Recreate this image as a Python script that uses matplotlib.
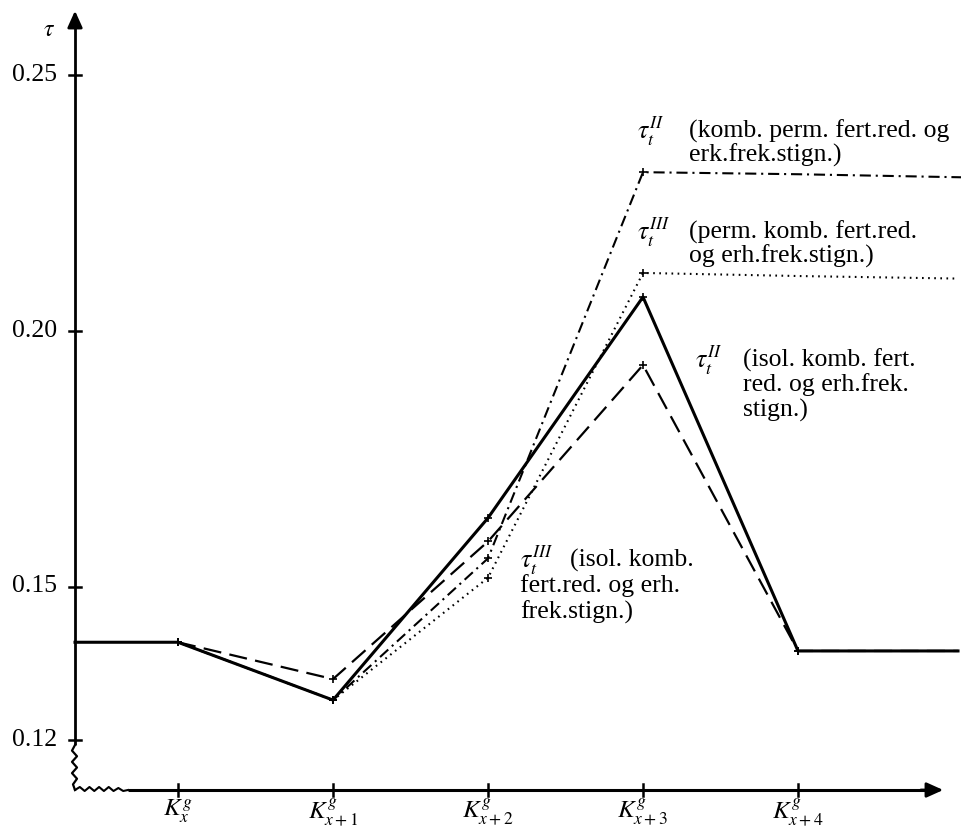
import matplotlib
matplotlib.use("Agg")
import matplotlib.pyplot as plt
import numpy as np

# ---------------- data ----------------
categories = [r"$K^{g}_{x}$", r"$K^{g}_{x+1}$", r"$K^{g}_{x+2}$", r"$K^{g}_{x+3}$", r"$K^{g}_{x+4}$"]
positions = [0, 1, 2, 3, 4]

tau_II_isol = [0.1391, 0.1278, 0.1634, 0.2066, 0.1374]     # solid
tau_III_isol = [0.1391, 0.1319, 0.1588, 0.1933, 0.1374]    # long dashes
tau_II_perm = [0.1391, 0.1278, 0.1555, 0.2310, 0.2306]     # dash-dot
tau_III_perm = [0.1391, 0.1278, 0.1517, 0.2113, 0.2107]    # dotted

start_value = 0.1391          # level before K_x
end_II_perm = 0.2300          # levels at right edge
end_III_perm = 0.2102
end_isol = 0.1374

ytick_values = [0.25, 0.20, 0.15, 0.12]
ytick_labels = ["0.25", "0.20", "0.15", "0.12"]

# ---------------- layout (pixel calibration of the drawing) ----------------
W, H = 962, 832
X0_PX, DX_PX = 178, 155          # pixel of K_x and spacing between categories
YREF_PX, PX_PER_UNIT = 75, 5115  # pixel of tau = 0.25 and scale
AXIS_X_PX, AXIS_Y_PX = 75, 790

def dx(px):
    return (px - X0_PX) / DX_PX

def dy(py):
    return 0.25 - (py - YREF_PX) / PX_PER_UNIT

plt.rcParams["font.family"] = ["Liberation Serif", "DejaVu Serif"]
plt.rcParams["mathtext.fontset"] = "stix"
plt.rcParams["lines.scale_dashes"] = False

fig = plt.figure(figsize=(W / 100, H / 100), dpi=100)
ax = fig.add_axes([0, 0, 1, 1])
ax.set_xlim(dx(0), dx(W))
ax.set_ylim(dy(H), dy(0))
ax.axis("off")

xa = dx(AXIS_X_PX)
ya = dy(AXIS_Y_PX)
x_right = dx(958)

# ---------------- axes with arrows ----------------
k = "k"
ax.plot([xa, xa], [dy(745), dy(22)], color=k, lw=2.0, solid_capstyle="butt")
ax.annotate("", xy=(xa, dy(8)), xytext=(xa, dy(30)),
            arrowprops=dict(arrowstyle="-|>,head_length=1.0,head_width=0.45", color=k, lw=2.0))
# axis break (wavy)
zig_y = np.linspace(745, AXIS_Y_PX, 9)
zig_x = AXIS_X_PX + np.array([0, -3, 2, -3, 2, -3, 2, -2, 0])
ax.plot(dx(zig_x), dy(zig_y), color=k, lw=1.6)
wav_x = np.linspace(AXIS_X_PX, 128, 12)
wav_y = AXIS_Y_PX + np.array([0, -3, 1, -3, 1, -3, 1, -3, 1, -2, 1, 0])
ax.plot(dx(wav_x), dy(wav_y), color=k, lw=1.5)
ax.plot([dx(128), dx(928)], [ya, ya], color=k, lw=2.2, solid_capstyle="butt")
ax.annotate("", xy=(dx(946), ya), xytext=(dx(918), ya),
            arrowprops=dict(arrowstyle="-|>,head_length=1.0,head_width=0.45", color=k, lw=2.0))

# y ticks and labels
for v, lab in zip(ytick_values, ytick_labels):
    ax.plot([dx(AXIS_X_PX - 6), dx(AXIS_X_PX + 6)], [v, v], color=k, lw=1.8)
    ax.text(dx(57), v, lab, ha="right", va="center", fontsize=18.5)
ax.text(dx(49), dy(31), r"$\tau$", ha="center", va="center", fontsize=17)

# x ticks and labels
for p, lab in zip(positions, categories):
    ax.plot([p, p], [dy(AXIS_Y_PX - 6), dy(AXIS_Y_PX + 6)], color=k, lw=1.8)
    ax.text(p, dy(797), lab, ha="center", va="top", fontsize=18)

# ---------------- series ----------------
mk = dict(marker="+", markersize=6, markeredgewidth=1.2)
ax.plot(positions + [x_right], tau_III_perm + [end_III_perm], color=k, lw=1.5,
        linestyle=(0, (1.2, 3.2)), markevery=[0, 1, 2, 3], **mk)
ax.plot(positions + [dx(962)], tau_II_perm + [end_II_perm], color=k, lw=1.5,
        linestyle=(0, (8, 3.5, 1.5, 3.5)), markevery=[0, 1, 2, 3], **mk)
ax.plot(positions + [x_right], tau_III_isol + [end_isol], color=k, lw=1.6,
        linestyle=(0, (13, 6)), markevery=[0, 1, 2, 3, 4], **mk)
ax.plot([xa] + positions + [x_right], [start_value] + tau_II_isol + [end_isol], color=k, lw=2.2,
        markevery=[1, 2, 3, 4, 5], **mk)

# ---------------- annotations ----------------
fs = 18.5

def label(xt, xl, yc, sym, lines, xfirst=None, step=25):
    ax.text(dx(xt), dy(yc), sym, ha="left", va="center", fontsize=fs)
    for i, ln in enumerate(lines):
        x = xl if (i > 0 or xfirst is None) else xfirst
        ax.text(dx(x), dy(yc + i * step), ln, ha="left", va="center", fontsize=fs)

label(637, 689, 131, r"$\tau_t^{II}$", ["(komb. perm. fert.red. og", "erk.frek.stign.)"], step=24)
label(637, 689, 232, r"$\tau_t^{III}$", ["(perm. komb. fert.red.", "og erh.frek.stign.)"], step=24)
label(695, 743, 360, r"$\tau_t^{II}$", ["(isol. komb. fert.", "red. og erh.frek.", "stign.)"])
label(520, 520, 560, r"$\tau_t^{III}$", ["(isol. komb.", "fert.red. og erh.", "frek.stign.)"],
      xfirst=570, step=26)

fig.savefig("out.png", dpi=100)
